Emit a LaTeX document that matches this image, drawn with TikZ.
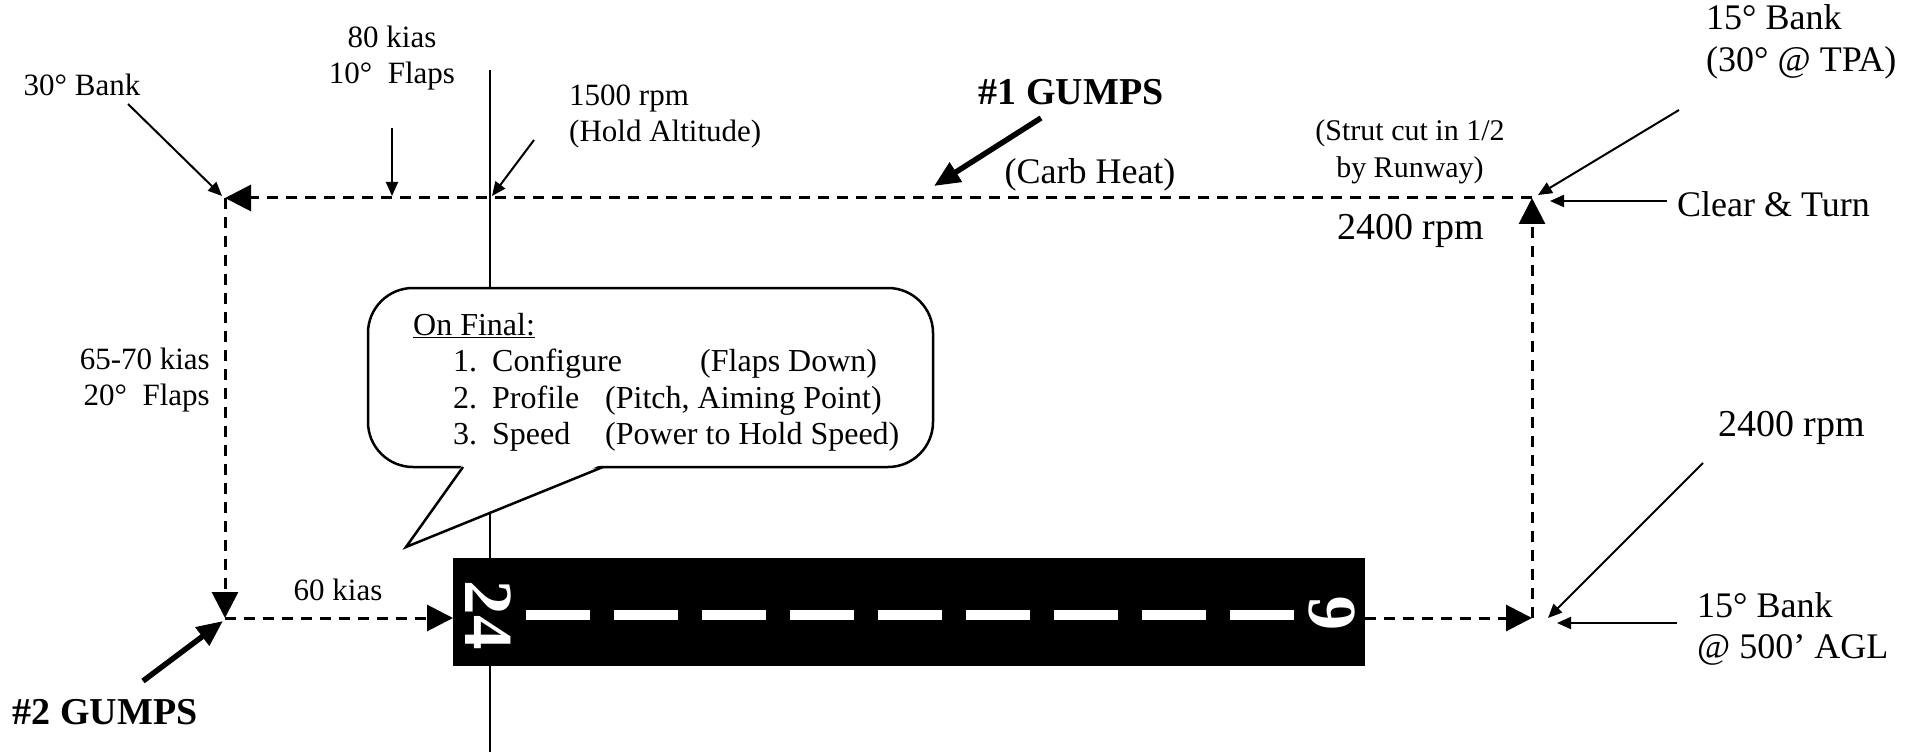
\documentclass[tikz,border=0pt]{standalone}
\usepackage{fontspec}
\setmainfont{Liberation Serif}
\usetikzlibrary{arrows.meta}
\begin{document}
\begin{tikzpicture}[x=1pt,y=-1pt,
  route/.style={line width=3pt, dash pattern=on 11pt off 8pt, -{Triangle[length=26pt,width=26pt]}},
  thinarr/.style={line width=2pt, -{Triangle[length=14pt,width=12pt]}},
  thickarr/.style={line width=5.5pt, -{Triangle[length=26pt,width=22pt]}},
  lbl/.style={inner sep=0pt, font=\fontsize{36}{41.4}\selectfont},
  blbl/.style={inner sep=0pt, font=\fontsize{38}{43}\selectfont},
  slbl/.style={inner sep=0pt, font=\fontsize{31}{36}\selectfont},
  gumps/.style={inner sep=0pt, font=\fontsize{38}{44}\selectfont\bfseries},
  boxtxt/.style={inner sep=0pt, anchor=base west, font=\fontsize{32}{36.5}\selectfont},
  rwnum/.style={inner sep=0pt, text=white, font=\fontsize{69}{69}\selectfont\bfseries},
  rwdash/.style={fill=white}
]
\useasboundingbox (0,0) rectangle (1915,754);

% corners of the pattern
\coordinate (tl) at (225,198);
\coordinate (tr) at (1532,198);
\coordinate (bl) at (225,618);
\coordinate (br) at (1532,618);
\coordinate (rwl) at (453,618);
\coordinate (rwr) at (1365,618);

% extended runway centre line
\coordinate (vtop) at (490,70);
\coordinate (vbot) at (490,752);
\draw[line width=2pt] (vtop) -- (vbot);

% runway
\node[fill=black, inner sep=0pt, minimum width=912pt, minimum height=108pt] (runway) at (909,612) {};
\foreach \i in {0,...,8}
  \fill[rwdash] (526+88*\i,610) rectangle ++(64,10);
\node[rwnum, rotate=-90] (n24) at (488,615) {24};
\node[rwnum, rotate=90] (n6) at (1332,613) {6};

% traffic pattern
\draw[route] (tr) -- (tl);
\draw[route] (tl) -- (bl);
\draw[route] (bl) -- (rwl);
\draw[route] (rwr) -- (br);
\draw[route] (br) -- (tr);

% callout
\draw[line width=2.5pt, fill=white, rounded corners=45pt] (368,288) rectangle (933,467);
\fill[white] (463,464) -- (406,547) -- (603,464) -- cycle;
\coordinate (pl) at (463,467);
\coordinate (ptip) at (406,547);
\coordinate (pr) at (603,467);
\draw[line width=2.5pt, line join=miter] (pl) -- (ptip) -- (pr);
\node[boxtxt] (onfinal) at (413,335) {\underline{On Final:}};
\node[boxtxt] (c1) at (453,371) {1.};
\node[boxtxt] (c1a) at (492,371) {Configure};
\node[boxtxt] (c1b) at (700,371) {(Flaps Down)};
\node[boxtxt] (c2) at (453,408) {2.};
\node[boxtxt] (c2a) at (492,408) {Profile};
\node[boxtxt] (c2b) at (605,408) {(Pitch, Aiming Point)};
\node[boxtxt] (c3) at (453,444) {3.};
\node[boxtxt] (c3a) at (492,444) {Speed};
\node[boxtxt] (c3b) at (605,444) {(Power to Hold Speed)};

% labels
\node[slbl] (bank30) at (82,85) {30° Bank};
\node[slbl, align=center] (kias80) at (392,58) {80 kias\\10°\enspace Flaps};
\node[slbl, align=left, anchor=west] (rpm1500) at (569,116) {1500 rpm\\(Hold Altitude)};
\node[gumps] (gumps1) at (1071,92) {\#1 GUMPS};
\node[lbl] (carb) at (1090,175) {(Carb Heat)};
\node[inner sep=0pt, font=\fontsize{30}{36.6}\selectfont, align=center] (strut) at (1410,152) {(Strut cut in 1/2\\by Runway)};
\node[lbl, align=left, anchor=west] (bank15) at (1706,42) {15° Bank\\(30° @ TPA)};
\node[lbl, anchor=west] (clear) at (1677,204) {Clear \& Turn};
\node[blbl, anchor=west] (rpm2400a) at (1337,231) {2400 rpm};
\node[slbl, align=right, anchor=east] (kias6570) at (210,380) {65-70 kias\\20°\enspace Flaps};
\node[slbl] (kias60) at (338,590) {60 kias};
\node[blbl, anchor=west] (rpm2400b) at (1718,428) {2400 rpm};
\node[lbl, align=left, anchor=west] (bank15b) at (1697,629) {15° Bank\\@ 500’ AGL};
\node[gumps] (gumps2) at (105,712) {\#2 GUMPS};

% label arrows
\coordinate (a1s) at (128,104);  \coordinate (a1e) at (222,196);
\coordinate (a2s) at (392,128);  \coordinate (a2e) at (392,196);
\coordinate (a3s) at (534,140);  \coordinate (a3e) at (492,196);
\coordinate (a4s) at (1041,118); \coordinate (a4e) at (934,186);
\coordinate (a5s) at (1679,110); \coordinate (a5e) at (1538,195);
\coordinate (a6s) at (1667,201); \coordinate (a6e) at (1550,201);
\coordinate (a7s) at (143,681);  \coordinate (a7e) at (223,621);
\coordinate (a8s) at (1703,463); \coordinate (a8e) at (1548,618);
\coordinate (a9s) at (1677,623); \coordinate (a9e) at (1557,623);
\draw[thinarr] (a1s) -- (a1e);
\draw[thinarr] (a2s) -- (a2e);
\draw[thinarr] (a3s) -- (a3e);
\draw[thickarr] (a4s) -- (a4e);
\draw[thinarr] (a5s) -- (a5e);
\draw[thinarr] (a6s) -- (a6e);
\draw[thickarr] (a7s) -- (a7e);
\draw[thinarr] (a8s) -- (a8e);
\draw[thinarr] (a9s) -- (a9e);
\end{tikzpicture}
\end{document}
